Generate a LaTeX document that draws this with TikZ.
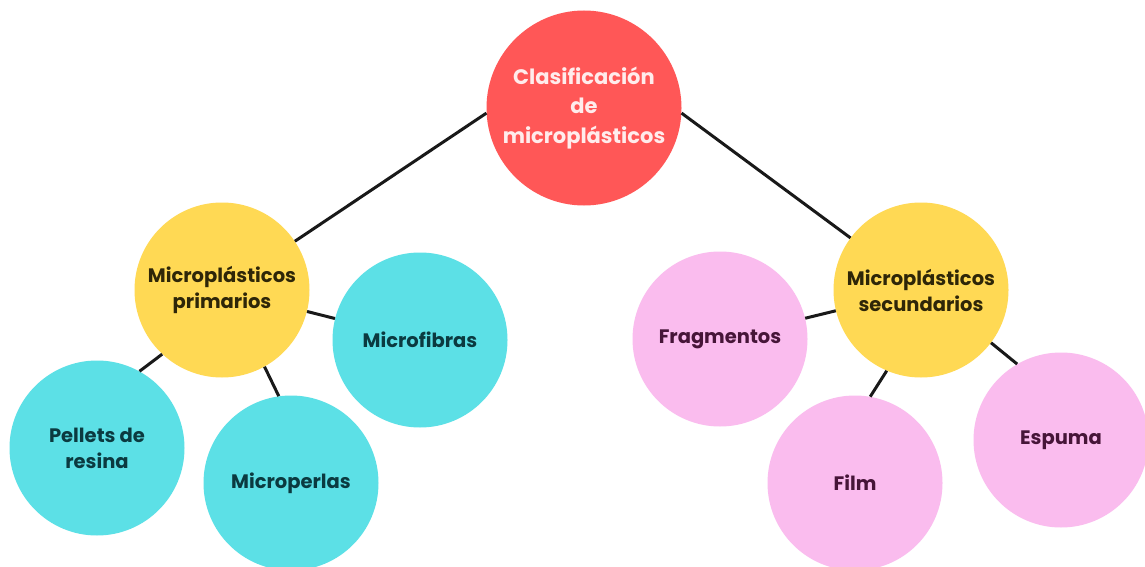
\documentclass[tikz,border=0pt]{standalone}
\usepackage{fontspec}
\setmainfont{Poppins}
\usepackage{xcolor}
\usetikzlibrary{positioning, calc}

\definecolor{rojo}{HTML}{FF5757}
\definecolor{amarillo}{HTML}{FFD954}
\definecolor{cian}{HTML}{5CE0E6}
\definecolor{rosa}{HTML}{FABCEE}
\definecolor{textoraiz}{HTML}{FFECEC}
\definecolor{textoamar}{HTML}{2E2608}
\definecolor{textocian}{HTML}{0B3A40}
\definecolor{textorosa}{HTML}{461538}

\tikzset{
  burbuja/.style={circle, inner sep=0pt, minimum size=175pt, align=center, font=\bfseries\fontsize{19.5}{26}\selectfont},
  raiz/.style={burbuja, fill=rojo, text=textoraiz, minimum size=195pt, font=\bfseries\fontsize{21}{29.5}\selectfont},
  grupo/.style={burbuja, fill=amarillo, text=textoamar},
  tipoA/.style={burbuja, fill=cian, text=textocian},
  tipoB/.style={burbuja, fill=rosa, text=textorosa},
  enlace/.style={line width=3pt, draw=black!90}
}

\begin{document}
\begin{tikzpicture}[x=1pt, y=-1pt]
    \useasboundingbox[fill=white] (0,0) rectangle (1145,567);

    % Central concept
    \node[raiz] (raiz) at (584,108) {Clasificación\\de\\microplásticos};

    % The two groups
    \node[grupo] (prim) at (222,290) {Microplásticos\\primarios};
    \node[grupo] (sec) at (921,290) {Microplásticos\\secundarios};

    % Primary types
    \node[tipoA] (pel) at (97,448) {Pellets de\\resina};
    \node[tipoA] (mperl) at (291,483) {Microperlas};
    \node[tipoA] (mfib) at (420,340) {Microfibras};

    % Secondary types
    \node[tipoB] (frag) at (720,339) {Fragmentos};
    \node[tipoB] (film) at (855,483) {Film};
    \node[tipoB] (esp) at (1061,440) {Espuma};

    % Connectors
    \draw[enlace] (raiz.183) -- (prim);
    \draw[enlace] (raiz.-3) -- (sec);
    \foreach \a/\b in {prim.227/pel.61, prim/mfib, prim.-61/mperl.98, sec/frag, sec.247/film.80, sec.-37/esp.120} {
        \draw[enlace] (\a) -- (\b);
    }
\end{tikzpicture}
\end{document}
